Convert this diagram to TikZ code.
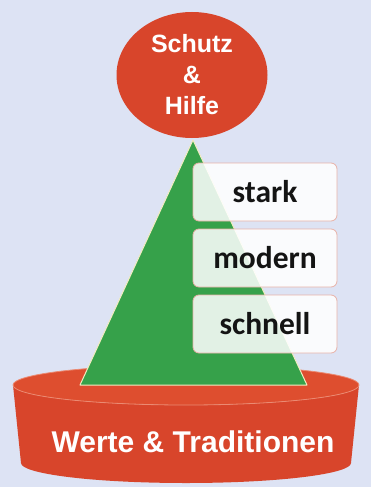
\documentclass[tikz,border=0pt]{standalone}
\usepackage{fontspec}
\setmainfont{Liberation Sans}
\newfontfamily\boxfont{Carlito}
\usetikzlibrary{shapes.geometric}
\definecolor{bg}{HTML}{DDE3F4}
\definecolor{redA}{HTML}{D8452B}
\definecolor{redTop}{HTML}{DE4E2F}
\definecolor{seam}{HTML}{EB8A72}
\definecolor{greenA}{HTML}{36A14A}
\definecolor{cream}{HTML}{F2ECC0}
\definecolor{boxline}{HTML}{E8B2A8}
\tikzset{
  redfill/.style={fill=redA, draw=none},
  topbubble/.style={ellipse, redfill, inner sep=0pt, minimum width=151pt, minimum height=126pt,
    text=white, font=\fontsize{25}{31}\selectfont\bfseries, align=center},
  valuebox/.style={rectangle, rounded corners=6pt, draw=boxline, line width=0.8pt,
    fill=white, fill opacity=0.86, text opacity=1, minimum width=144pt, minimum height=58pt,
    inner sep=0pt, text height=20pt, text depth=0pt, text=black!92,
    font=\boxfont\fontsize{31.5}{31.5}\selectfont\bfseries},
  basetext/.style={text=white, font=\fontsize{30}{30}\selectfont\bfseries, inner sep=0pt}
}
\begin{document}
\begin{tikzpicture}[x=1pt,y=-1pt]
\useasboundingbox (0,0) rectangle (371,487);
\fill[bg] (0,0) rectangle (371,487);
% cylinder base
\fill[redA] (13,385) -- (21,463) arc[start angle=180, end angle=0, x radius=165, y radius=20]
  -- (359,385) arc[start angle=0, end angle=180, x radius=173, y radius=20] -- cycle;
\fill[redTop, draw=seam, line width=0.8pt] (186,385) ellipse[x radius=173, y radius=20];
% pyramid
\coordinate (apex) at (193,140);
\coordinate (bl) at (80,385);
\coordinate (br) at (307,385);
\filldraw[fill=greenA, draw=cream, line width=1pt, line join=round] (bl) -- (apex) -- (br) -- cycle;
% top bubble
\node[topbubble] (top) at (192,75) {Schutz\\\&\\Hilfe};
% boxes
\node[valuebox] (stark) at (265,192) {stark};
\node[valuebox] (modern) at (265,258) {modern};
\node[valuebox] (schnell) at (265,324) {schnell};
% base text
\node[basetext, anchor=base] (werte) at (193,452) {Werte \& Traditionen};
\end{tikzpicture}
\end{document}
